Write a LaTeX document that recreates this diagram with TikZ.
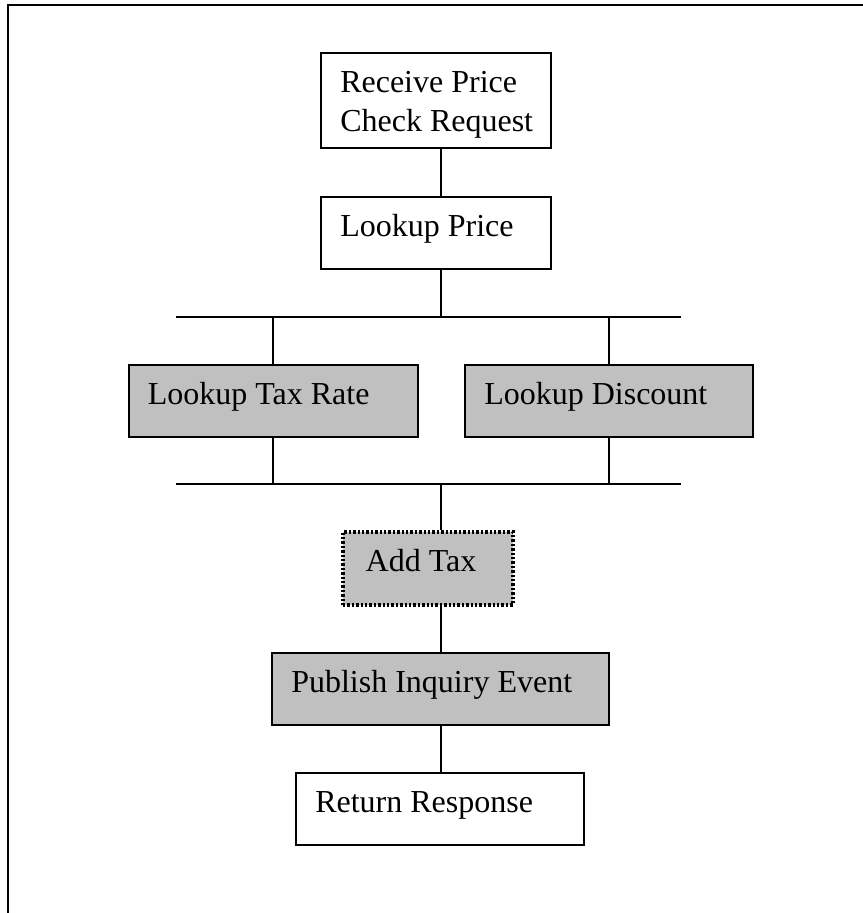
\documentclass[tikz,border=0pt]{standalone}
\usepackage{fontspec}
\setmainfont{Liberation Serif}
\definecolor{stepgray}{RGB}{192,192,192}

\newcommand{\px}{0.75pt}
\newcommand{\boxfont}{\fontsize{24pt}{29pt}\selectfont}
\newcommand{\lead}{\rule{0pt}{30.4pt}}

\begin{document}
\begin{tikzpicture}[x=0.75pt, y=-0.75pt,
  stage/.style={draw, rectangle, line width=1.5pt, inner sep=0pt},
  shaded/.style={stage, fill=stepgray},
  dotbox/.style={shaded, line width=2.4pt, dash pattern=on 1.8pt off 1.5pt},
  caption/.style={anchor=north west, inner sep=0pt, align=left, font=\boxfont, xshift=20*\px},
  link/.style={line width=1pt},
  bar/.style={line width=1.5pt}]

  \useasboundingbox (0,0) rectangle (863,913);

  % Frame
  \draw[line width=1.5pt] (863,5) -- (8,5) -- (8,913);

  % Spine and split bars
  \coordinate (spine) at (441,0);
  \coordinate (splitL) at (176,317);
  \coordinate (splitR) at (681,317);
  \coordinate (joinL) at (176,484);
  \coordinate (joinR) at (681,484);

  % Steps
  \node[stage, minimum width=230*\px, minimum height=95*\px,
    label={[caption]north west:{\lead Receive Price\\Check Request}}] (recv) at (436,100.5) {};
  \node[stage, minimum width=230*\px, minimum height=72*\px,
    label={[caption]north west:{\lead Lookup Price}}] (lookprice) at (436,233) {};
  \node[shaded, minimum width=289*\px, minimum height=72*\px,
    label={[caption]north west:{\lead Lookup Tax Rate}}] (taxrate) at (273,401) {};
  \node[shaded, minimum width=288*\px, minimum height=72*\px,
    label={[caption]north west:{\lead Lookup Discount}}] (discount) at (609,401) {};
  \node[dotbox, minimum width=170*\px, minimum height=73*\px,
    label={[caption, xshift=4*\px]north west:{\lead Add Tax}}] (addtax) at (428,568.5) {};
  \node[shaded, minimum width=337*\px, minimum height=72*\px,
    label={[caption]north west:{\lead Publish Inquiry Event}}] (publish) at (440.5,689) {};
  \node[stage, minimum width=288*\px, minimum height=72*\px,
    label={[caption]north west:{\lead Return Response}}] (ret) at (440,809) {};

  % Connectors
  \draw[link] (recv.south -| spine) -- (lookprice.north -| spine);
  \draw[link] (lookprice.south -| spine) -- (splitL -| spine);
  \draw[bar] (splitL) -- (splitR);
  \draw[link] (taxrate.north) -- (taxrate.north |- splitL);
  \draw[link] (discount.north) -- (discount.north |- splitL);
  \draw[link] (taxrate.south) -- (taxrate.south |- joinL);
  \draw[link] (discount.south) -- (discount.south |- joinL);
  \draw[bar] (joinL) -- (joinR);
  \draw[link] (joinL -| spine) -- (addtax.north -| spine);
  \draw[link] (addtax.south -| spine) -- (publish.north -| spine);
  \draw[link] (publish.south -| spine) -- (ret.north -| spine);

\end{tikzpicture}
\end{document}
